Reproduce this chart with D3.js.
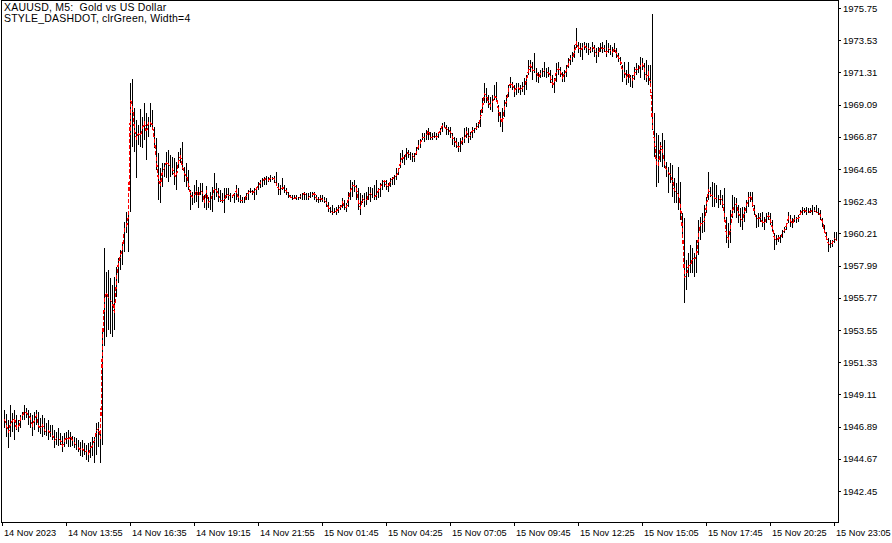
<!DOCTYPE html>
<html><head><meta charset="utf-8">
<script src="https://cdn.jsdelivr.net/npm/d3@7/dist/d3.min.js"></script>
<style>html,body{margin:0;padding:0;background:#fff;overflow:hidden}</style>
</head><body>
<svg id="c" width="892" height="543"></svg>
<script>
const titleLines = ["XAUUSD, M5:  Gold vs US Dollar", "STYLE_DASHDOT, clrGreen, Width=4"];
const tickLabels = ["14 Nov 2023","14 Nov 13:55","14 Nov 16:35","14 Nov 19:15","14 Nov 21:55","15 Nov 01:45","15 Nov 04:25","15 Nov 07:05","15 Nov 09:45","15 Nov 12:25","15 Nov 15:05","15 Nov 17:45","15 Nov 20:25","15 Nov 23:05"];
const tickBars = [-1,31,63,95,127,159,191,223,255,287,319,351,383,415];
const priceTicks = [1975.75,1973.53,1971.31,1969.09,1966.87,1964.65,1962.43,1960.21,1957.99,1955.77,1953.55,1951.33,1949.11,1946.89,1944.67,1942.45];

const highs = [
1948.03,1947.75,1947.35,1948.38,1947.82,1948.03,1947.69,1947.35,1947.69,1947.89,
1948.38,1948.17,1948.03,1947.82,1947.69,1947.89,1948.03,1947.89,1947.48,1947.69,
1947.48,1947.14,1947.35,1947.01,1947.01,1946.66,1946.52,1946.80,1946.45,1946.25,
1946.45,1946.52,1946.66,1946.52,1946.25,1946.18,1946.11,1945.97,1945.83,1945.97,
1945.76,1945.63,1945.76,1945.83,1946.18,1946.18,1947.14,1947.21,1946.66,1953.55,
1959.20,1957.55,1957.69,1957.14,1956.66,1957.21,1957.90,1958.52,1959.07,1959.54,
1960.99,1961.68,1961.61,1970.58,1970.85,1968.86,1968.03,1967.69,1968.79,1968.24,
1969.20,1968.51,1968.24,1969.20,1968.72,1967.55,1966.79,1965.75,1964.72,1965.06,
1965.06,1965.82,1965.96,1965.62,1965.48,1965.41,1965.13,1965.82,1966.10,1966.51,
1964.79,1965.06,1964.58,1963.20,1963.06,1963.55,1963.89,1963.41,1963.68,1963.68,
1962.86,1963.48,1962.72,1963.06,1963.41,1964.37,1963.68,1963.34,1963.20,1962.99,
1963.34,1963.34,1963.34,1962.99,1962.86,1962.99,1963.55,1963.34,1962.86,1962.72,
1962.72,1962.99,1963.20,1963.34,1963.20,1963.34,1963.41,1963.75,1963.89,1964.03,
1964.10,1964.17,1964.10,1964.24,1964.10,1964.17,1964.44,1963.68,1963.55,1964.03,
1963.55,1963.34,1963.06,1962.86,1962.86,1962.86,1962.86,1962.72,1962.92,1962.99,
1963.06,1962.99,1962.99,1963.06,1963.06,1963.06,1962.86,1962.72,1962.86,1962.86,
1962.72,1962.65,1962.37,1962.03,1962.17,1961.96,1962.03,1962.17,1962.17,1962.65,
1962.51,1962.30,1963.06,1963.89,1963.75,1963.89,1963.55,1963.34,1962.99,1962.86,
1962.99,1963.06,1963.41,1963.41,1963.34,1963.55,1963.89,1963.34,1963.68,1963.89,
1963.89,1963.89,1963.68,1964.03,1964.10,1964.24,1964.72,1964.72,1965.75,1965.96,
1965.62,1966.10,1965.96,1965.82,1965.75,1965.75,1966.17,1966.65,1966.72,1967.13,
1967.13,1967.34,1967.48,1967.20,1967.13,1967.20,1967.13,1967.20,1967.48,1967.82,
1967.89,1967.69,1967.55,1967.55,1967.13,1966.86,1966.79,1966.51,1966.79,1966.86,
1967.48,1967.55,1967.48,1967.20,1967.55,1967.48,1967.82,1967.89,1968.72,1969.55,
1970.58,1970.24,1969.75,1969.62,1969.75,1970.44,1970.65,1969.07,1968.58,1968.86,
1969.41,1969.75,1970.44,1970.99,1970.65,1970.44,1970.58,1970.58,1970.44,1970.65,
1970.92,1971.13,1972.16,1972.16,1972.02,1972.64,1971.61,1971.33,1971.47,1971.61,
1972.02,1971.61,1971.68,1971.47,1971.13,1970.92,1971.95,1972.02,1971.68,1971.33,
1971.47,1971.82,1972.30,1972.51,1972.71,1973.20,1974.37,1973.40,1973.33,1973.33,
1973.40,1973.33,1973.33,1973.06,1973.40,1973.20,1972.99,1973.06,1973.33,1973.40,
1973.20,1973.54,1973.33,1973.20,1973.06,1973.33,1972.99,1972.64,1972.37,1971.82,
1972.02,1971.47,1972.02,1971.13,1971.13,1971.68,1971.95,1971.82,1972.37,1972.30,
1971.95,1972.16,1971.82,1971.82,1975.33,1968.51,1967.13,1967.00,1966.51,1967.13,
1966.65,1965.13,1964.79,1965.06,1964.92,1964.03,1963.68,1964.79,1963.75,1961.61,
1961.27,1958.38,1958.86,1959.41,1959.20,1958.86,1959.75,1961.13,1961.34,1961.61,
1962.17,1962.72,1964.44,1963.41,1963.75,1963.68,1963.55,1962.86,1963.20,1962.86,
1963.34,1961.34,1960.92,1961.82,1962.86,1962.72,1962.65,1962.17,1961.96,1962.03,
1962.03,1962.51,1963.06,1963.06,1963.06,1962.17,1961.48,1961.61,1961.61,1961.68,
1961.34,1961.61,1961.68,1961.61,1961.13,1960.23,1960.10,1960.10,1960.10,1960.44,
1960.65,1960.92,1961.68,1961.48,1961.27,1961.48,1961.34,1961.48,1961.82,1962.03,
1961.96,1962.03,1961.96,1961.96,1962.17,1962.03,1962.17,1961.96,1961.82,1961.27,
1960.79,1960.30,1959.89,1959.75,1959.75,1960.30,1960.30,1960.23];

const lows = [
1946.80,1946.18,1945.42,1946.18,1946.52,1945.97,1946.66,1946.52,1946.80,1947.35,
1947.35,1947.48,1947.01,1946.80,1946.25,1946.66,1947.01,1946.52,1946.38,1946.18,
1946.32,1946.25,1945.97,1946.18,1945.97,1945.42,1945.63,1945.56,1945.63,1945.14,
1945.49,1945.69,1945.49,1945.49,1945.56,1945.42,1945.28,1945.14,1944.87,1944.80,
1944.94,1944.59,1944.45,1944.73,1944.87,1944.38,1944.94,1945.49,1944.38,1945.63,
1952.45,1953.07,1953.55,1953.27,1953.07,1953.55,1955.83,1956.79,1957.69,1958.04,
1958.93,1960.23,1958.93,1961.68,1966.17,1965.82,1964.03,1966.31,1966.17,1966.10,
1966.65,1965.27,1966.86,1967.55,1967.34,1966.10,1964.58,1962.51,1962.30,1963.41,
1964.10,1964.03,1963.75,1964.10,1964.24,1963.55,1963.20,1964.72,1965.06,1964.58,
1963.75,1963.41,1963.20,1961.82,1962.17,1962.30,1962.37,1961.96,1962.86,1962.37,
1961.96,1961.82,1961.96,1961.82,1961.68,1962.51,1962.72,1962.37,1962.37,1962.30,
1961.61,1962.65,1962.51,1962.37,1962.65,1962.30,1962.51,1962.37,1962.30,1962.30,
1962.30,1962.51,1962.51,1962.99,1962.86,1962.51,1962.86,1963.20,1963.34,1963.41,
1963.55,1963.55,1963.75,1963.75,1963.89,1963.68,1963.55,1962.86,1962.86,1963.20,
1962.99,1962.86,1962.65,1962.65,1962.51,1962.65,1962.51,1962.51,1962.58,1962.51,
1962.51,1962.51,1962.51,1962.65,1962.72,1962.51,1962.37,1962.30,1962.37,1962.37,
1962.30,1962.03,1961.68,1961.61,1961.48,1961.61,1961.48,1961.61,1961.82,1961.96,
1961.82,1961.68,1962.03,1962.51,1962.72,1963.06,1962.51,1961.82,1961.48,1962.30,
1962.03,1962.17,1962.51,1962.37,1962.65,1962.51,1962.51,1962.65,1962.72,1963.20,
1963.41,1963.20,1963.06,1963.41,1963.55,1963.55,1963.89,1964.24,1964.72,1965.06,
1964.92,1965.27,1965.41,1965.27,1965.13,1965.13,1965.62,1965.96,1966.10,1966.65,
1966.51,1966.65,1966.65,1966.65,1966.65,1966.79,1966.65,1966.79,1967.00,1967.20,
1967.48,1967.00,1967.00,1966.79,1966.31,1966.17,1966.10,1965.82,1965.82,1966.31,
1966.44,1966.79,1966.44,1966.65,1966.79,1967.13,1967.34,1967.48,1967.55,1968.51,
1969.20,1969.20,1968.86,1968.72,1968.58,1969.41,1969.27,1967.89,1967.55,1967.20,
1968.24,1968.93,1969.62,1970.24,1970.10,1969.62,1969.75,1969.89,1969.75,1969.96,
1969.75,1970.10,1971.13,1971.33,1970.79,1971.26,1970.65,1970.58,1970.92,1970.99,
1970.99,1970.92,1970.99,1970.58,1970.24,1969.89,1970.65,1971.13,1970.99,1970.65,
1970.65,1970.99,1971.61,1971.82,1972.02,1972.30,1972.99,1972.64,1972.37,1972.16,
1972.85,1972.64,1972.51,1972.64,1972.71,1972.37,1971.95,1972.37,1972.71,1972.64,
1972.71,1972.37,1972.64,1972.51,1972.37,1972.71,1972.30,1972.02,1971.82,1970.65,
1970.92,1970.44,1970.58,1970.30,1970.24,1970.79,1971.13,1971.26,1970.92,1971.47,
1970.79,1970.65,1970.44,1970.30,1967.34,1965.48,1963.41,1963.68,1965.13,1964.79,
1964.72,1964.10,1962.99,1963.68,1962.72,1962.30,1962.30,1961.82,1961.13,1959.96,
1955.41,1956.31,1957.21,1957.48,1957.48,1957.21,1957.48,1958.72,1959.75,1960.23,
1960.30,1961.61,1962.51,1962.72,1962.03,1962.03,1962.30,1961.96,1962.17,1961.96,
1960.99,1959.54,1959.20,1959.54,1961.27,1961.61,1961.27,1960.92,1960.65,1960.44,
1960.99,1961.61,1962.03,1962.37,1962.03,1961.48,1960.58,1960.65,1960.99,1960.65,
1960.44,1960.92,1961.13,1960.79,1960.30,1959.07,1959.41,1959.61,1959.54,1959.89,
1960.23,1960.44,1960.92,1960.65,1960.58,1960.99,1960.92,1960.99,1961.48,1961.48,
1961.61,1961.48,1961.61,1961.61,1961.48,1961.68,1961.61,1961.48,1961.13,1960.65,
1960.23,1959.75,1958.93,1959.20,1959.27,1959.54,1959.75,1959.54];

const closes = [
1947.41,1947.01,1946.52,1947.14,1947.35,1947.48,1946.80,1946.87,1947.48,1947.69,
1947.96,1947.89,1947.69,1947.48,1947.01,1947.35,1947.69,1947.01,1946.80,1947.01,
1946.66,1946.52,1946.66,1946.45,1946.32,1945.97,1946.11,1946.11,1945.97,1945.63,
1945.97,1946.18,1946.04,1946.25,1945.97,1945.76,1945.63,1945.49,1945.28,1945.42,
1945.14,1945.28,1945.07,1945.42,1945.63,1945.97,1946.66,1946.80,1946.11,1952.86,
1955.62,1956.17,1955.76,1955.62,1955.48,1954.79,1957.14,1958.24,1958.72,1959.27,
1960.58,1960.72,1961.41,1969.41,1969.07,1967.34,1966.79,1967.13,1967.00,1967.55,
1967.89,1967.20,1967.96,1967.89,1967.69,1966.65,1965.27,1963.89,1963.61,1964.58,
1964.72,1965.20,1964.99,1964.86,1964.72,1964.24,1964.17,1965.20,1965.55,1964.86,
1964.30,1964.24,1963.68,1962.92,1962.72,1962.86,1963.20,1962.79,1963.20,1963.06,
1962.37,1963.20,1962.37,1962.51,1962.92,1963.34,1963.20,1962.92,1962.51,1962.51,
1962.51,1962.99,1962.86,1962.86,1962.79,1962.99,1963.20,1962.65,1962.51,1962.51,
1962.51,1962.86,1963.06,1963.20,1963.06,1963.13,1963.34,1963.55,1963.75,1963.89,
1963.96,1964.03,1963.89,1964.10,1964.03,1964.03,1963.61,1963.34,1963.20,1963.41,
1963.34,1963.13,1962.99,1962.72,1962.65,1962.65,1962.72,1962.65,1962.79,1962.92,
1962.99,1962.86,1962.72,1962.86,1962.92,1962.99,1962.65,1962.51,1962.65,1962.58,
1962.51,1962.37,1962.03,1961.82,1961.68,1961.75,1961.75,1961.96,1962.03,1962.37,
1962.03,1962.03,1962.65,1963.20,1963.55,1963.55,1963.34,1962.44,1961.96,1962.65,
1962.51,1962.51,1962.86,1962.99,1962.86,1962.79,1962.86,1963.20,1963.48,1963.75,
1963.89,1963.55,1963.41,1963.89,1964.03,1964.10,1964.24,1964.58,1965.13,1965.48,
1965.41,1965.82,1965.75,1965.62,1965.62,1965.48,1965.82,1966.31,1966.51,1966.86,
1966.86,1967.00,1967.34,1966.86,1966.86,1967.00,1966.86,1967.13,1967.34,1967.69,
1967.55,1967.48,1967.34,1967.27,1966.86,1966.65,1966.44,1966.17,1966.31,1966.65,
1966.79,1967.20,1966.86,1967.00,1967.34,1967.34,1967.55,1967.69,1968.24,1968.93,
1969.89,1969.75,1969.27,1969.07,1969.27,1969.69,1969.62,1968.72,1968.17,1967.89,
1968.93,1969.41,1970.10,1970.65,1970.44,1970.10,1970.30,1970.30,1970.10,1970.30,
1970.44,1970.79,1971.47,1971.82,1971.47,1971.47,1971.33,1970.99,1971.26,1971.33,
1971.47,1971.33,1971.33,1970.99,1970.51,1970.58,1971.47,1971.61,1971.33,1970.99,
1971.26,1971.47,1971.95,1972.30,1972.37,1972.71,1973.40,1973.06,1972.85,1973.06,
1973.20,1972.99,1972.99,1972.85,1973.06,1972.99,1972.57,1972.71,1973.06,1972.99,
1972.99,1972.71,1972.99,1972.85,1972.71,1972.99,1972.64,1972.37,1972.16,1971.47,
1971.33,1970.99,1971.26,1970.92,1970.79,1971.26,1971.61,1971.47,1971.82,1971.95,
1971.47,1971.06,1971.33,1970.58,1967.69,1966.65,1964.92,1964.92,1966.31,1965.96,
1965.13,1964.58,1964.44,1964.24,1963.89,1963.20,1963.06,1962.92,1962.17,1960.44,
1957.21,1957.35,1958.03,1958.03,1958.52,1958.52,1958.59,1960.10,1960.92,1960.92,
1961.13,1962.17,1963.20,1962.86,1962.86,1962.65,1962.65,1962.51,1962.65,1962.51,
1961.48,1960.10,1959.89,1960.58,1961.82,1962.17,1962.30,1961.61,1961.27,1961.13,
1961.68,1962.17,1962.65,1962.86,1962.37,1961.68,1961.27,1961.27,1961.34,1960.99,
1960.92,1961.34,1961.48,1961.13,1960.58,1959.89,1959.75,1959.96,1959.89,1960.30,
1960.44,1960.79,1961.34,1961.13,1960.92,1961.27,1961.27,1961.27,1961.61,1961.82,
1961.82,1961.75,1961.68,1961.75,1961.82,1961.82,1961.68,1961.68,1961.48,1960.99,
1960.44,1959.89,1959.54,1959.41,1959.61,1959.89,1959.75,1959.75];

const n = Math.min(highs.length, lows.length, closes.length);
const idx = d3.range(n);

const svg = d3.select("#c");
const FONT = "'Liberation Sans', Arial, sans-serif";
const plotL = 1, plotR = 838, plotT = 1, plotB = 522;

const x = d3.scaleLinear().domain([0, 417]).range([4, 838]);
const y = d3.scaleLinear().domain([1940.31, 1976.30]).range([522, 0]);

svg.append("rect").attr("width", 892).attr("height", 543).attr("fill", "#fff");

svg.append("defs").append("clipPath").attr("id", "clip")
  .append("rect").attr("x", plotL + 1).attr("y", plotT).attr("width", plotR - plotL).attr("height", plotB - plotT);

const plot = svg.append("g").attr("clip-path", "url(#clip)");

const px = i => Math.round(x(i)) + 0.5;

plot.append("g").selectAll("line").data(idx).join("line")
  .attr("x1", px).attr("x2", px)
  .attr("y1", i => Math.round(y(highs[i])))
  .attr("y2", i => Math.max(Math.round(y(lows[i])), Math.round(y(highs[i])) + 1))
  .attr("stroke", "#000").attr("stroke-width", 1)
  .attr("shape-rendering", "crispEdges");

const line = d3.line().x(i => px(i)).y(i => Math.round(y(closes[i])) + 0.5);
plot.append("path").datum(idx).attr("d", line)
  .attr("fill", "none").attr("stroke", "#ff0000").attr("stroke-width", 1.2)
  .attr("stroke-dasharray", "4,2")
  .attr("shape-rendering", "crispEdges");

// frame
svg.append("rect").attr("x", plotL + 0.5).attr("y", 0.5)
  .attr("width", plotR - plotL).attr("height", plotB)
  .attr("fill", "none").attr("stroke", "#000").attr("shape-rendering", "crispEdges");

// y axis
const ya = svg.append("g").attr("transform", `translate(${plotR},0)`)
  .call(d3.axisRight(y).tickValues(priceTicks).tickSize(3).tickPadding(2).tickFormat(d3.format(".2f")));
ya.select(".domain").remove();
ya.selectAll("line").attr("stroke", "#000").attr("shape-rendering", "crispEdges");
ya.selectAll("text").attr("fill", "#000").style("font-family", FONT).style("font-size", "9.5px");

// x axis
const xa = svg.append("g").attr("transform", `translate(0,${plotB})`)
  .call(d3.axisBottom(x).tickValues(tickBars).tickSize(4).tickFormat((d, i) => tickLabels[i]));
xa.select(".domain").remove();
xa.selectAll("line").attr("stroke", "#000").attr("shape-rendering", "crispEdges");
xa.selectAll("text").attr("fill", "#000").attr("text-anchor", "start").attr("x", 1.5).attr("y", 7)
  .style("font-family", FONT).style("font-size", "9.2px");

// title
svg.append("g").selectAll("text").data(titleLines).join("text")
  .attr("x", 4).attr("y", (d, i) => 11 + i * 11)
  .style("font-family", FONT).style("font-size", "10.5px").style("white-space", "pre")
  .style("letter-spacing", "0.2px")
  .attr("fill", "#000").text(d => d);
</script>
</body></html>
